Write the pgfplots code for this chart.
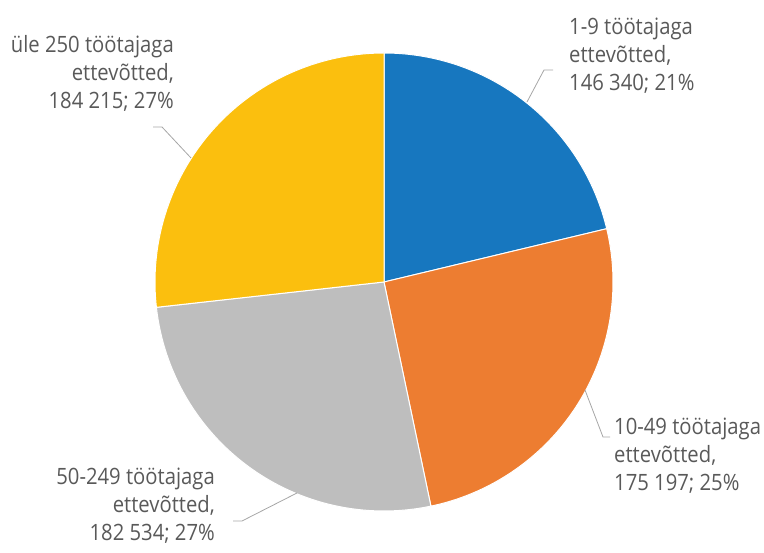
\documentclass[border=0pt]{standalone}
\usepackage{fontspec}
\setmainfont{Open Sans}[FakeStretch=0.9]
\usepackage{pgfplots}
\pgfplotsset{compat=1.18}

\definecolor{cblue}{HTML}{1777BF}
\definecolor{corange}{HTML}{ED7D31}
\definecolor{cgray}{HTML}{BEBEBE}
\definecolor{cyellow}{HTML}{FBBF0E}
\definecolor{labtxt}{HTML}{595959}
\definecolor{leader}{HTML}{A6A6A6}

% values (employees)
\def\vA{146340}% 1-9
\def\vB{175197}% 10-49
\def\vC{182534}% 50-249
\def\vD{184215}% 250+
\edef\tot{\fpeval{\vA+\vB+\vC+\vD}}
\edef\aA{90}
\edef\aB{\fpeval{\aA-360*\vA/\tot}}
\edef\aC{\fpeval{\aB-360*\vB/\tot}}
\edef\aD{\fpeval{\aC-360*\vC/\tot}}
\edef\aE{\fpeval{\aD-360*\vD/\tot}}

% pie centre and radius in pixel units
\def\pcx{384}
\def\pcy{271}
\def\prr{229}

\newcommand\lab{\fontsize{22.5}{27}\selectfont}
\tikzset{lbl/.style={font=\lab, text=labtxt, inner sep=0pt}}

\newcommand\slice[3]{%
  \addplot[fill=#1, draw=white, line width=1pt, domain=#3:#2, samples=90]
    ({\pcx+\prr*cos(x)}, {\pcy+\prr*sin(x)}) -- (axis cs:\pcx,\pcy) -- cycle;}

\begin{document}
\begin{tikzpicture}
\begin{axis}[
    width=764pt, height=553pt, scale only axis,
    xmin=0, xmax=764, ymin=0, ymax=553,
    hide axis, clip=false,
]
\path (axis cs:0,0) rectangle (axis cs:764,553);
\slice{cblue}{\aA}{\aB}
\slice{corange}{\aB}{\aC}
\slice{cgray}{\aC}{\aD}
\slice{cyellow}{\aD}{\aE}

% leader lines
\addplot[draw=leader, line width=0.8pt] coordinates {(553,483) (544,483) (527,451)};
\addplot[draw=leader, line width=0.8pt] coordinates {(585,163) (603,116) (610,116)};
\addplot[draw=leader, line width=0.8pt] coordinates {(297,60) (242,32) (233,32)};
\addplot[draw=leader, line width=0.8pt] coordinates {(153,426) (162,426) (191,395)};

% labels
\node[lbl, anchor=base west] at (axis cs:569,518) {1-9 töötajaga};
\node[lbl, anchor=base west] at (axis cs:569,490) {ettevõtted,};
\node[lbl, anchor=base west] at (axis cs:569,462) {146 340; 21\%};

\node[lbl, anchor=base west] at (axis cs:614,118) {10-49 töötajaga};
\node[lbl, anchor=base west] at (axis cs:614,90) {ettevõtted,};
\node[lbl, anchor=base west] at (axis cs:614,62) {175 197; 25\%};

\node[lbl, anchor=base east] at (axis cs:215,68) {50-249 töötajaga};
\node[lbl, anchor=base east] at (axis cs:215,40) {ettevõtted,};
\node[lbl, anchor=base east] at (axis cs:215,12) {182 534; 27\%};

\node[lbl, anchor=base east] at (axis cs:174,500) {üle 250 töötajaga};
\node[lbl, anchor=base east] at (axis cs:174,472) {ettevõtted,};
\node[lbl, anchor=base east] at (axis cs:174,444) {184 215; 27\%};
\end{axis}
\end{tikzpicture}
\end{document}
